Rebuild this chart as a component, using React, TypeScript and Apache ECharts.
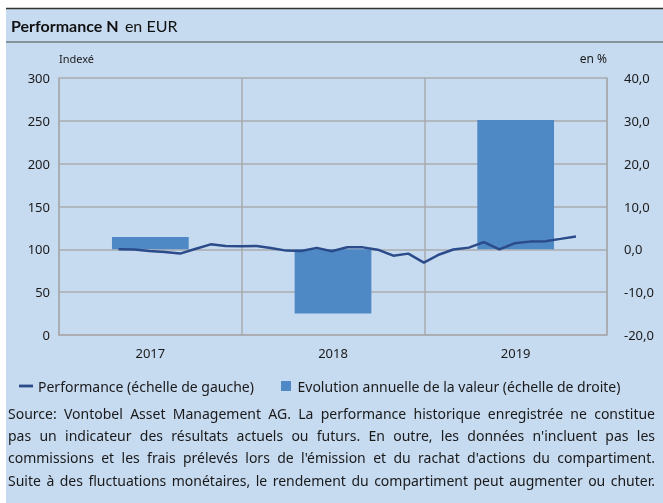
import React, { useEffect, useRef } from "react";
import * as echarts from "echarts";

const years = ["2017", "2018", "2019"];
const annualChange = [2.9, -15.0, 30.2];

const perfDates = [
  "2017-04-30", "2017-05-31", "2017-06-30", "2017-07-31", "2017-08-31", "2017-09-30",
  "2017-10-31", "2017-11-30", "2017-12-31", "2018-01-31", "2018-02-28", "2018-03-31",
  "2018-04-30", "2018-05-31", "2018-06-30", "2018-07-31", "2018-08-31", "2018-09-30",
  "2018-10-31", "2018-11-30", "2018-12-31", "2019-01-31", "2019-02-28", "2019-03-31",
  "2019-04-30", "2019-05-31", "2019-06-30", "2019-07-31", "2019-08-31", "2019-09-30",
  "2019-10-31",
];
const perfValues = [
  100.0, 99.7, 98.0, 97.0, 95.0, 100.4,
  105.8, 104.0, 103.7, 103.9, 101.5, 98.5,
  98.0, 101.7, 97.7, 102.5, 102.3, 99.6,
  92.6, 95.0, 84.5, 94.0, 99.8, 102.0,
  108.5, 100.0, 107.0, 109.0, 109.5, 112.2,
  115.1,
];

const lineName = "Performance (échelle de gauche)";
const barName = "Evolution annuelle de la valeur (échelle de droite)";

const sourceLines = [
  "Source: Vontobel Asset Management AG. La performance historique enregistrée ne constitue",
  "pas un indicateur des résultats actuels ou futurs. En outre, les données n'incluent pas les",
  "commissions et les frais prélevés lors de l'émission et du rachat d'actions du compartiment.",
  "Suite à des fluctuations monétaires, le rendement du compartiment peut augmenter ou chuter.",
];

const FONT = '"Noto Sans", "Open Sans", sans-serif';
const TITLE_FONT = 'Lato, "Noto Sans", sans-serif';
const BG = "#c6daf0";
const BAR = "#4f89c5";
const LINE = "#2b4b8b";
const GRID = "#a9abae";
const TXT = "#1a1a1a";

export default function App() {
  const ref = useRef<HTMLDivElement>(null);
  useEffect(() => {
    if (!ref.current) return;
    const chart = echarts.init(ref.current, null, { renderer: "svg" });

    const canvas = document.createElement("canvas");
    const ctx = canvas.getContext("2d")!;
    const measure = (s: string, size: number) => {
      ctx.font = `${size}px ${FONT}`;
      return ctx.measureText(s).width;
    };
    const textLeft = 8;
    const textRight = 655;
    const W = textRight - textLeft;
    let fs = 13;
    const natural = measure(sourceLines[3], fs);
    if (natural > 0) fs = Math.min(14, fs * (W / natural));
    const lineYs = [413, 435, 457, 480];
    const wordEls: any[] = [];
    sourceLines.forEach((line, i) => {
      const words = line.split(" ");
      const ws = words.map((w) => measure(w, fs));
      const sum = ws.reduce((a, b) => a + b, 0);
      const gap = (W - sum) / (words.length - 1);
      let x = textLeft;
      words.forEach((w, j) => {
        wordEls.push({
          type: "text",
          x,
          y: lineYs[i],
          style: {
            text: w,
            fontSize: fs,
            fontFamily: FONT,
            fill: TXT,
            verticalAlign: "middle",
            align: "left",
          },
        });
        x += ws[j] + gap;
      });
    });

    const fmtPct = (v: number) => v.toFixed(1).replace(".", ",");

    chart.setOption({
      animation: false,
      backgroundColor: "transparent",
      textStyle: { fontFamily: FONT },
      grid: { left: 59, right: 56, top: 78, bottom: 168 },
      legend: [
        {
          data: [{ name: lineName, icon: "path://M0 0H13V2.6H0Z" }],
          left: 14,
          top: 374,
          itemWidth: 14,
          itemHeight: 10,
          textStyle: { fontSize: 14, color: TXT, fontFamily: FONT },
        },
        {
          data: [{ name: barName, icon: "path://M0 0H10V10H0Z" }],
          left: 276,
          top: 374,
          itemWidth: 13,
          itemHeight: 10,
          textStyle: { fontSize: 14, color: TXT, fontFamily: FONT },
        },
      ],
      xAxis: [
        {
          type: "category",
          data: years,
          boundaryGap: true,
          axisLine: { show: true, lineStyle: { color: GRID, width: 1.5 } },
          axisTick: { show: false },
          axisLabel: { color: TXT, fontSize: 13, margin: 11, fontFamily: FONT },
          splitLine: { show: true, lineStyle: { color: GRID, width: 1.5 } },
        },
        {
          type: "time",
          min: "2017-01-01",
          max: "2020-01-01",
          show: false,
          splitLine: { show: false },
        },
      ],
      yAxis: [
        {
          type: "value",
          min: 0,
          max: 300,
          interval: 50,
          position: "left",
          name: "Indexé",
          nameLocation: "end",
          nameGap: 14,
          nameTextStyle: { align: "left", color: TXT, fontSize: 11, fontFamily: FONT },
          axisLine: { show: true, lineStyle: { color: GRID, width: 1.5 } },
          axisTick: { show: false },
          axisLabel: { color: TXT, fontSize: 13, margin: 9, fontFamily: FONT },
          splitLine: { show: true, lineStyle: { color: GRID, width: 1.5 } },
        },
        {
          type: "value",
          min: -20,
          max: 40,
          interval: 10,
          position: "right",
          name: "en %",
          nameLocation: "end",
          nameGap: 14,
          nameTextStyle: { align: "right", color: TXT, fontSize: 12, fontFamily: FONT },
          axisLine: { show: true, lineStyle: { color: GRID, width: 1.5 } },
          axisTick: { show: false },
          axisLabel: {
            color: TXT,
            fontSize: 13,
            margin: 17,
            fontFamily: FONT,
            formatter: (v: number) => fmtPct(v),
          },
          splitLine: { show: false },
        },
      ],
      series: [
        {
          name: barName,
          type: "bar",
          xAxisIndex: 0,
          yAxisIndex: 1,
          data: annualChange,
          barWidth: "42%",
          itemStyle: { color: BAR },
          z: 2,
        },
        {
          name: lineName,
          type: "line",
          xAxisIndex: 1,
          yAxisIndex: 0,
          data: perfDates.map((d, i) => [d, perfValues[i]]),
          showSymbol: false,
          symbol: "none",
          lineStyle: { color: LINE, width: 2.5 },
          itemStyle: { color: LINE },
          z: 3,
        },
      ],
      graphic: [
        {
          type: "rect",
          z: -10,
          silent: true,
          shape: { x: 6, y: 8, width: 657, height: 495 },
          style: { fill: BG },
        },
        {
          type: "line",
          z: -5,
          shape: { x1: 6, y1: 8.5, x2: 663, y2: 8.5 },
          style: { stroke: "#333333", lineWidth: 1.5 },
        },
        {
          type: "line",
          z: -5,
          shape: { x1: 6, y1: 42, x2: 663, y2: 42 },
          style: { stroke: "#4a4a4a", lineWidth: 1 },
        },
        {
          type: "text",
          x: 11,
          y: 25.5,
          style: {
            text: "{b|Performance N} {n|en EUR}",
            verticalAlign: "middle",
            rich: {
              b: { fontSize: 16, fontWeight: "bold", fontFamily: TITLE_FONT, fill: "#111" },
              n: { fontSize: 16, fontFamily: TITLE_FONT, fill: "#111", padding: [0, 0, 0, 3] },
            },
          },
        },
        ...wordEls,
      ],
    });
    return () => chart.dispose();
  }, []);
  return (
    <div
      ref={ref}
      style={{ position: "fixed", left: 0, top: 0, width: 663, height: 503 }}
    />
  );
}
